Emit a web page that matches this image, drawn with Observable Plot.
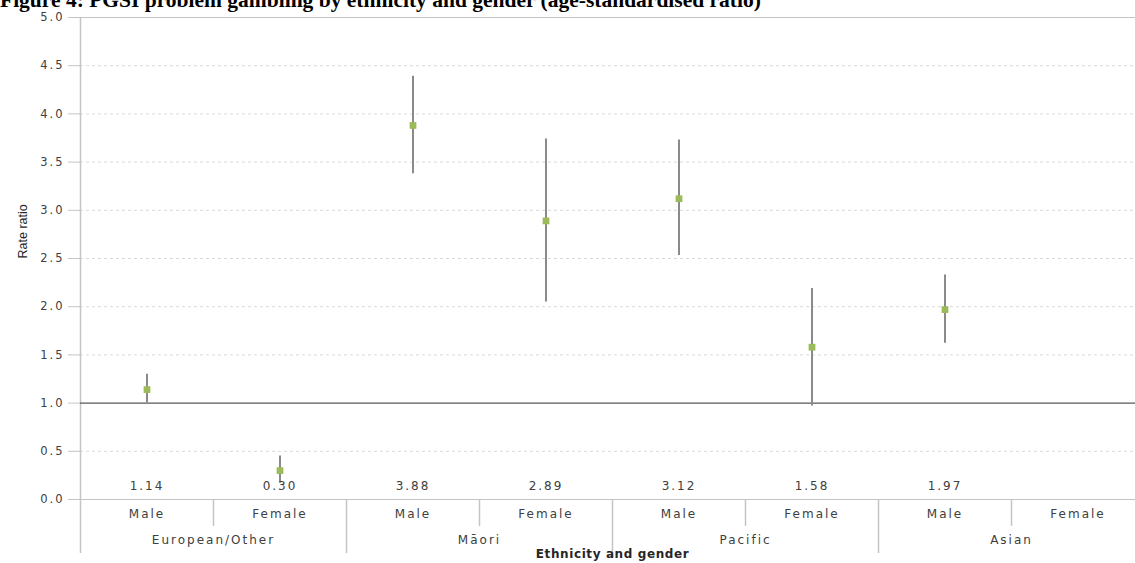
<!DOCTYPE html>
<html><head><meta charset="utf-8">
<script src="https://cdn.jsdelivr.net/npm/d3@7"></script>
<script src="https://cdn.jsdelivr.net/npm/@observablehq/plot@0.6"></script>
<style>
body{margin:0;background:#fff;overflow:hidden}
#wrap{position:relative;width:1135px;height:563px;overflow:hidden}
#title{position:absolute;left:0;top:-10px;font-family:"Liberation Serif";font-weight:bold;font-size:21.5px;line-height:21.5px;white-space:nowrap;color:#000;z-index:2}
#chart svg{display:block;overflow:visible}
#chart svg g[aria-label="text"] text{letter-spacing:2px}
#chart svg g[aria-label="y-axis tick label"] text{letter-spacing:2px}
#chart svg g[font-weight="bold"] text{letter-spacing:0.6px}
#chart svg g[font-family="Liberation Sans"] text{letter-spacing:0}
</style></head><body>
<div id="wrap"><div id="title"></div><div id="chart"></div></div>
<script>
const chartTitle = "Figure 4: PGSI problem gambling by ethnicity and gender (age-standardised ratio)";
const ethnicities = ["European/Other", "Māori", "Pacific", "Asian"];
const genders = ["Male", "Female"];
const rateRatio = [1.14, 0.30, 3.88, 2.89, 3.12, 1.58, 1.97, null];
const ciLower   = [1.00, 0.17, 3.38, 2.05, 2.53, 0.97, 1.62, null];
const ciUpper   = [1.30, 0.45, 4.39, 3.74, 3.73, 2.19, 2.33, null];
const valueLabels = ["1.14", "0.30", "3.88", "2.89", "3.12", "1.58", "1.97", ""];
const yTicks = [0, 0.5, 1, 1.5, 2, 2.5, 3, 3.5, 4, 4.5, 5];
const yTitle = "Rate ratio";
const xTitle = "Ethnicity and gender";

document.getElementById("title").textContent = chartTitle;

const rows = [];
ethnicities.forEach((e, g) => genders.forEach((s, k) => {
  const i = g * genders.length + k;
  rows.push({i, pos: i + 0.5, ethnicity: e, gender: s, rr: rateRatio[i], lo: ciLower[i], hi: ciUpper[i], label: valueLabels[i]});
}));
const n = rows.length;
const withData = rows.filter(d => d.rr != null);
const groups = ethnicities.map((e, g) => ({ethnicity: e, pos: (g + 0.5) * genders.length}));
const groupBounds = ethnicities.map((e, g) => g * genders.length).filter(b => b > 0); // group separators
const minorBounds = rows.map(d => d.i).filter(i => i % genders.length !== 0);        // gender separators
const gridValues = yTicks.filter(v => v !== 0 && v !== 1 && v !== 5);

const plot = Plot.plot({
  width: 1135,
  height: 563,
  marginTop: 17,
  marginBottom: 64,
  marginLeft: 80,
  marginRight: 0,
  style: {fontFamily: "DejaVu Sans", fontSize: "12px", color: "#404040", background: "transparent"},
  x: {type: "linear", domain: [0, n], range: [80, 1144], axis: null},
  y: {domain: [0, 5], axis: null},
  marks: [
    Plot.ruleY(gridValues, {stroke: "#d9d9d9", strokeDasharray: "3,3", strokeWidth: 1}),
    Plot.ruleY([5], {stroke: "#c4c4c4", strokeWidth: 1.2}),
    Plot.ruleY([0], {stroke: "#c4c4c4", strokeWidth: 1.2}),
    Plot.axisY({ticks: yTicks, tickSize: 12, tickPadding: 4, tickFormat: d3.format(".1f"), stroke: "#c4c4c4", fill: "#404040", fontSize: 11.5, label: null}),
    Plot.ruleX([0], {y1: 5, y2: 0, insetBottom: -54, stroke: "#c4c4c4", strokeWidth: 1.5}),
    Plot.ruleX(groupBounds, {x: d => d, y1: 0, y2: 0, insetBottom: -54, stroke: "#c4c4c4", strokeWidth: 1.5}),
    Plot.ruleX(minorBounds, {x: d => d, y1: 0, y2: 0, insetBottom: -27, stroke: "#c4c4c4", strokeWidth: 1.5}),
    Plot.ruleY([1], {stroke: "#595959", strokeWidth: 1.2}),
    Plot.ruleX(withData, {x: "pos", y1: "lo", y2: "hi", stroke: "#8a8a8a", strokeWidth: 2}),
    Plot.dot(withData, {x: "pos", y: "rr", symbol: "square", fill: "#9bbb59", r: 3.8}),
    Plot.text(rows, {x: "pos", text: "label", frameAnchor: "bottom", dy: -10, fontSize: 12, fill: "#404040"}),
    Plot.text(rows, {x: "pos", text: "gender", frameAnchor: "bottom", dy: 18, fontSize: 12, fill: "#404040"}),
    Plot.text(groups, {x: "pos", text: "ethnicity", frameAnchor: "bottom", dy: 44, fontSize: 12, fill: "#404040"}),
    Plot.text([xTitle], {x: n / 2, frameAnchor: "bottom", dy: 58, fontSize: 12, fontWeight: "bold", fill: "#262626"}),
    Plot.text([yTitle], {frameAnchor: "left", dx: -58, rotate: -90, fontSize: 12.5, fontFamily: "Liberation Sans", fill: "#262626"})
  ]
});
document.getElementById("chart").appendChild(plot);
</script>
</body></html>
